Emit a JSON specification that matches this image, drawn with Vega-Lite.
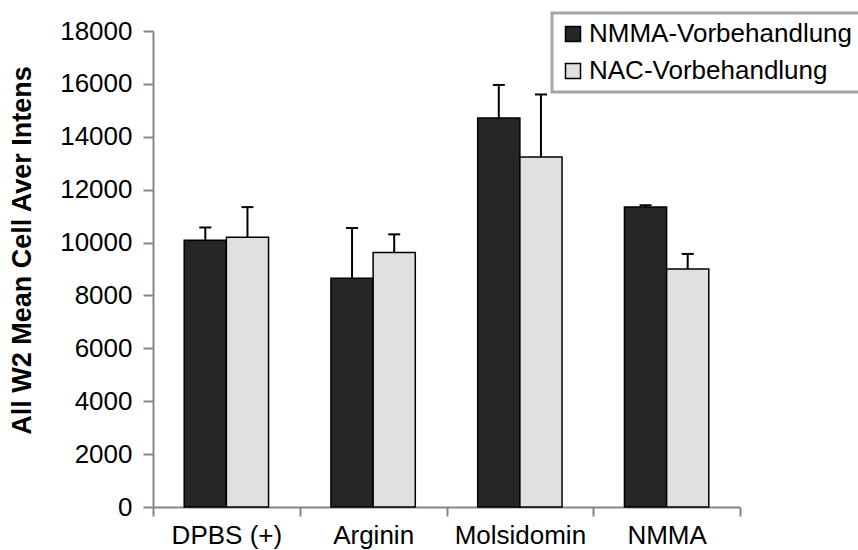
{
  "$schema": "https://vega.github.io/schema/vega-lite/v6.json",
  "width": 587,
  "height": 476,
  "autosize": {"type": "none"},
  "padding": {"left": 153, "top": 31, "right": 118, "bottom": 43},
  "background": "white",
  "config": {"view": {"stroke": null}, "font": "Liberation Sans"},
  "data": {
    "values": [
      {"treatment": "DPBS (+)", "series": "NMMA-Vorbehandlung", "value": 10090, "upper": 10570},
      {"treatment": "DPBS (+)", "series": "NAC-Vorbehandlung", "value": 10200, "upper": 11340},
      {"treatment": "Arginin", "series": "NMMA-Vorbehandlung", "value": 8650, "upper": 10550},
      {"treatment": "Arginin", "series": "NAC-Vorbehandlung", "value": 9620, "upper": 10310},
      {"treatment": "Molsidomin", "series": "NMMA-Vorbehandlung", "value": 14710, "upper": 15960},
      {"treatment": "Molsidomin", "series": "NAC-Vorbehandlung", "value": 13240, "upper": 15600},
      {"treatment": "NMMA", "series": "NMMA-Vorbehandlung", "value": 11345, "upper": 11410},
      {"treatment": "NMMA", "series": "NAC-Vorbehandlung", "value": 9000, "upper": 9570}
    ]
  },
  "encoding": {
    "x": {
      "field": "treatment",
      "type": "nominal",
      "sort": ["DPBS (+)", "Arginin", "Molsidomin", "NMMA"],
      "scale": {"paddingInner": 0, "paddingOuter": 0},
      "axis": {
        "title": null,
        "labelAngle": 0,
        "tickBand": "extent",
        "domainColor": "#868686",
        "domainWidth": 2,
        "tickColor": "#868686",
        "tickWidth": 2,
        "tickSize": 9,
        "labelFontSize": 26,
        "labelFont": "Liberation Sans",
        "labelPadding": 6,
        "labelColor": "black"
      }
    },
    "xOffset": {
      "field": "series",
      "type": "nominal",
      "sort": ["NMMA-Vorbehandlung", "NAC-Vorbehandlung"],
      "scale": {"paddingInner": 0, "paddingOuter": 0.74}
    }
  },
  "layer": [
    {
      "mark": {"type": "bar", "stroke": "black", "strokeWidth": 1.5},
      "encoding": {
        "y": {
          "field": "value",
          "type": "quantitative",
          "scale": {"domain": [0, 18000], "nice": false},
          "axis": {
            "title": "All W2 Mean Cell Aver Intens",
            "values": [0, 2000, 4000, 6000, 8000, 10000, 12000, 14000, 16000, 18000],
            "format": "d",
            "grid": false,
            "domainColor": "#868686",
            "domainWidth": 2,
            "tickColor": "#868686",
            "tickWidth": 2,
            "tickSize": 10,
            "labelFontSize": 26,
            "labelFont": "Liberation Sans",
            "labelColor": "black",
            "labelPadding": 11,
            "titleFont": "Liberation Sans",
            "titleFontSize": 27,
            "titleFontWeight": "bold",
            "titleColor": "black",
            "titleX": -131,
            "titleY": 219,
            "titleAngle": 270,
            "titleAlign": "center",
            "titleBaseline": "middle"
          }
        },
        "fill": {
          "field": "series",
          "type": "nominal",
          "scale": {
            "domain": ["NMMA-Vorbehandlung", "NAC-Vorbehandlung"],
            "range": ["#262626", "#e0e0e0"]
          },
          "legend": {
            "orient": "none",
            "legendX": 399,
            "legendY": -18,
            "title": null,
            "direction": "vertical",
            "symbolType": "square",
            "symbolSize": 225,
            "symbolStrokeColor": "black",
            "symbolStrokeWidth": 1.5,
            "labelFontSize": 26,
            "labelFont": "Liberation Sans",
            "labelColor": "black",
            "labelLimit": 400,
            "labelOffset": 3,
            "symbolOffset": 0,
            "padding": 8,
            "rowPadding": 11,
            "strokeColor": "#a6a6a6",
            "fillColor": "white",
            "encode": {"legend": {"update": {"strokeWidth": {"value": 3}}}}
          }
        }
      }
    },
    {
      "mark": {"type": "rule", "stroke": "black", "strokeWidth": 2},
      "encoding": {
        "y": {"field": "value", "type": "quantitative"},
        "y2": {"field": "upper"}
      }
    },
    {
      "mark": {"type": "tick", "color": "black", "thickness": 2, "size": 12, "orient": "horizontal", "opacity": 1},
      "encoding": {
        "y": {"field": "upper", "type": "quantitative"}
      }
    }
  ]
}
